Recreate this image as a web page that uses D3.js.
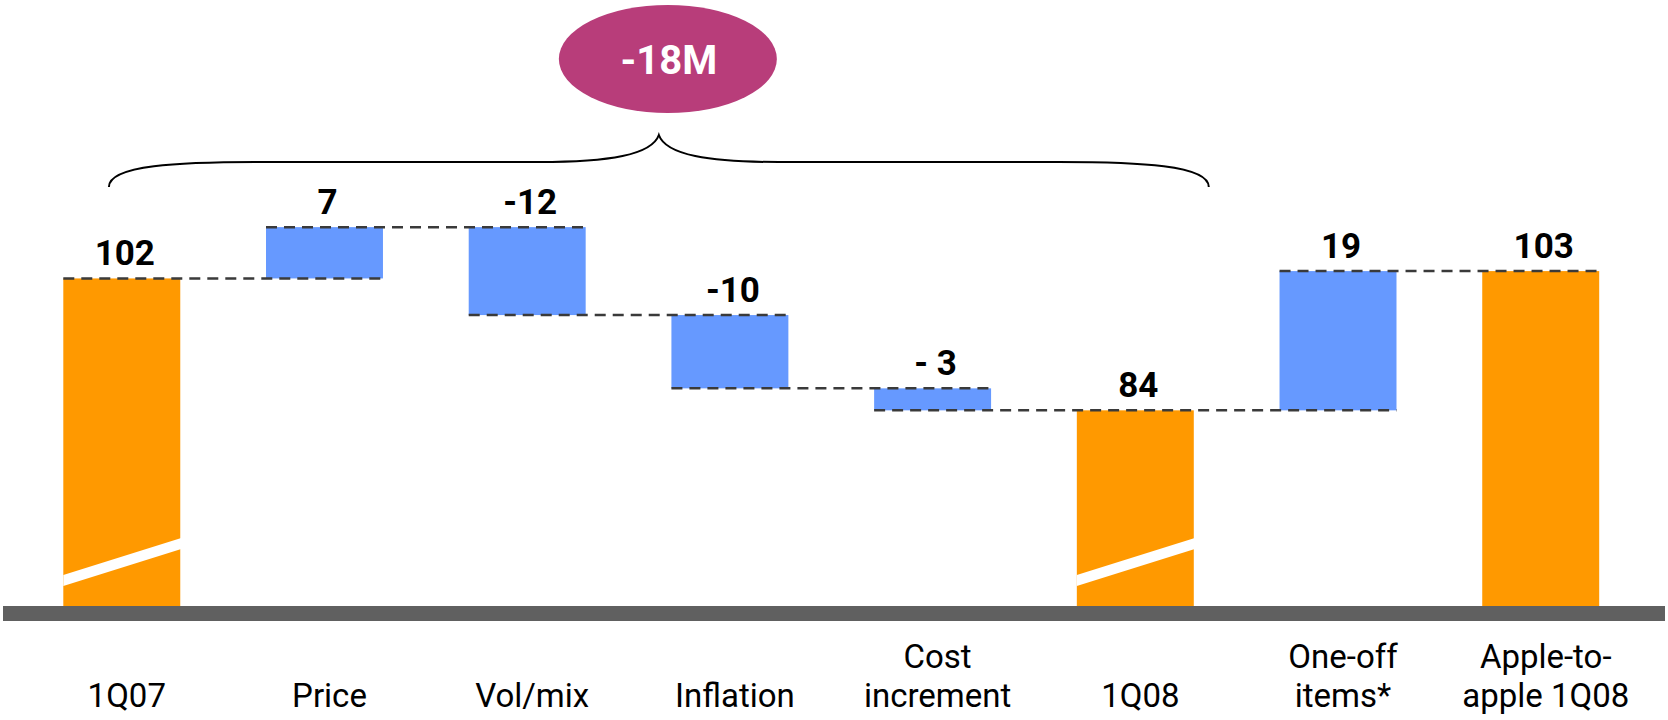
<!DOCTYPE html>
<html>
<head>
<meta charset="utf-8">
<script src="https://cdn.jsdelivr.net/npm/d3@7"></script>
<style>
  html, body { margin: 0; padding: 0; background: #ffffff; }
  svg { display: block; }
  text { font-family: Roboto, "Open Sans", sans-serif; }
</style>
</head>
<body>
<svg id="chart" width="1668" height="720"></svg>
<script>
// ---- data ----
const categories = ["1Q07", "Price", "Vol/mix", "Inflation", "Cost increment", "1Q08", "One-off items*", "Apple-to-apple 1Q08"];
const categoryLines = [["1Q07"], ["Price"], ["Vol/mix"], ["Inflation"], ["Cost", "increment"], ["1Q08"], ["One-off", "items*"], ["Apple-to-", "apple 1Q08"]];
const values = [102, 7, -12, -10, -3, 84, 19, 103];
const kinds = ["total", "delta", "delta", "delta", "delta", "total", "delta", "total"];
const valueLabels = ["102", "7", "-12", "-10", "- 3", "84", "19", "103"];
const brokenBars = ["1Q07", "1Q08"];
// connector lines: [from category index, to category index]
const connectors = [[0, 1], [1, 2], [2, 3], [3, 4], [4, 6], [6, 7]];
const bracketRange = ["1Q07", "1Q08"];
const bracketLabel = "-18M";

// ---- compute waterfall ----
let running = 0;
const bars = categories.map((c, i) => {
  if (kinds[i] === "total") {
    running = values[i];
    return { cat: c, i, kind: "total", lo: null, hi: values[i], end: values[i], label: valueLabels[i] };
  }
  const start = running;
  running = start + values[i];
  return { cat: c, i, kind: "delta", lo: Math.min(start, running), hi: Math.max(start, running), end: running, label: valueLabels[i] };
});

// ---- scales ----
const svg = d3.select("#chart");
const baseY = 606;
const x = d3.scaleBand().domain(categories).range([63.3, 1599.2]).paddingInner(0.423).paddingOuter(0);
const y = d3.scaleLinear().domain([57.3, 110]).range([baseY, 219.8]);
const bw = x.bandwidth();

const ORANGE = "#FF9900";
const BLUE = "#6699FF";

// ---- bars ----
svg.append("g").selectAll("rect").data(bars).join("rect")
  .attr("x", d => x(d.cat))
  .attr("width", bw)
  .attr("y", d => y(d.hi))
  .attr("height", d => d.kind === "total" ? baseY - y(d.hi) : y(d.lo) - y(d.hi))
  .attr("fill", d => d.kind === "total" ? ORANGE : BLUE);

// ---- axis break marks ----
svg.append("g").selectAll("polygon").data(brokenBars).join("polygon")
  .attr("points", c => {
    const x0 = x(c), x1 = x(c) + bw;
    const yl = baseY - 31, yr = baseY - 68, t = 11;
    return [[x0, yl], [x1 + 1, yr], [x1 + 1, yr + t], [x0, yl + t]].map(p => p.join(",")).join(" ");
  })
  .attr("fill", "#ffffff");

// ---- connectors ----
svg.append("g").selectAll("line").data(connectors).join("line")
  .attr("x1", d => x(categories[d[0]]))
  .attr("x2", d => x(categories[d[1]]) + bw)
  .attr("y1", d => y(bars[d[0]].end))
  .attr("y2", d => y(bars[d[0]].end))
  .attr("stroke", "#3a3a3a")
  .attr("stroke-width", 2.5)
  .attr("stroke-dasharray", "11,7");

// ---- baseline axis ----
svg.append("rect")
  .attr("x", 3).attr("y", baseY)
  .attr("width", 1662).attr("height", 15)
  .attr("fill", "#606060");

// ---- value labels ----
svg.append("g").selectAll("text").data(bars).join("text")
  .attr("x", d => x(d.cat) + bw / 2 + 3)
  .attr("y", d => y(d.hi) - 13)
  .attr("text-anchor", "middle")
  .attr("font-size", 35)
  .attr("font-weight", 700)
  .attr("fill", "#000")
  .text(d => d.label);

// ---- category labels ----
const catItems = [];
categories.forEach((c, i) => {
  const lines = categoryLines[i];
  lines.forEach((ln, k) => catItems.push({ c, ln, k, n: lines.length }));
});
svg.append("g").selectAll("text").data(catItems).join("text")
  .attr("x", d => x(d.c) + bw / 2 + 5)
  .attr("y", d => 707 - (d.n - 1 - d.k) * 39)
  .attr("text-anchor", "middle")
  .attr("font-size", 33)
  .attr("fill", "#000")
  .text(d => d.ln);

// ---- bracket ----
const bx0 = x(bracketRange[0]) + bw * 0.39;
const bx1 = x(bracketRange[1]) + bw + 15;
const bm = (bx0 + bx1) / 2;
const by = 162, btip = 187, bcusp = 135;
const bpath = d3.path();
bpath.moveTo(bx0, btip);
bpath.bezierCurveTo(bx0, by + 3, bx0 + 70, by, bx0 + 150, by);
bpath.lineTo(bm - 120, by);
bpath.bezierCurveTo(bm - 50, by, bm - 7, by - 7, bm, bcusp);
bpath.bezierCurveTo(bm + 7, by - 7, bm + 50, by, bm + 120, by);
bpath.lineTo(bx1 - 150, by);
bpath.bezierCurveTo(bx1 - 70, by, bx1, by + 3, bx1, btip);
svg.append("path").attr("d", bpath.toString())
  .attr("fill", "none").attr("stroke", "#000").attr("stroke-width", 2);

// ---- ellipse label ----
svg.append("ellipse")
  .attr("cx", bm + 9).attr("cy", 59)
  .attr("rx", 109).attr("ry", 54)
  .attr("fill", "#B83D7A");
svg.append("text")
  .attr("x", bm + 10).attr("y", 74)
  .attr("text-anchor", "middle")
  .attr("font-size", 40)
  .attr("font-weight", 700)
  .attr("fill", "#fff")
  .text(bracketLabel);
</script>
</body>
</html>
